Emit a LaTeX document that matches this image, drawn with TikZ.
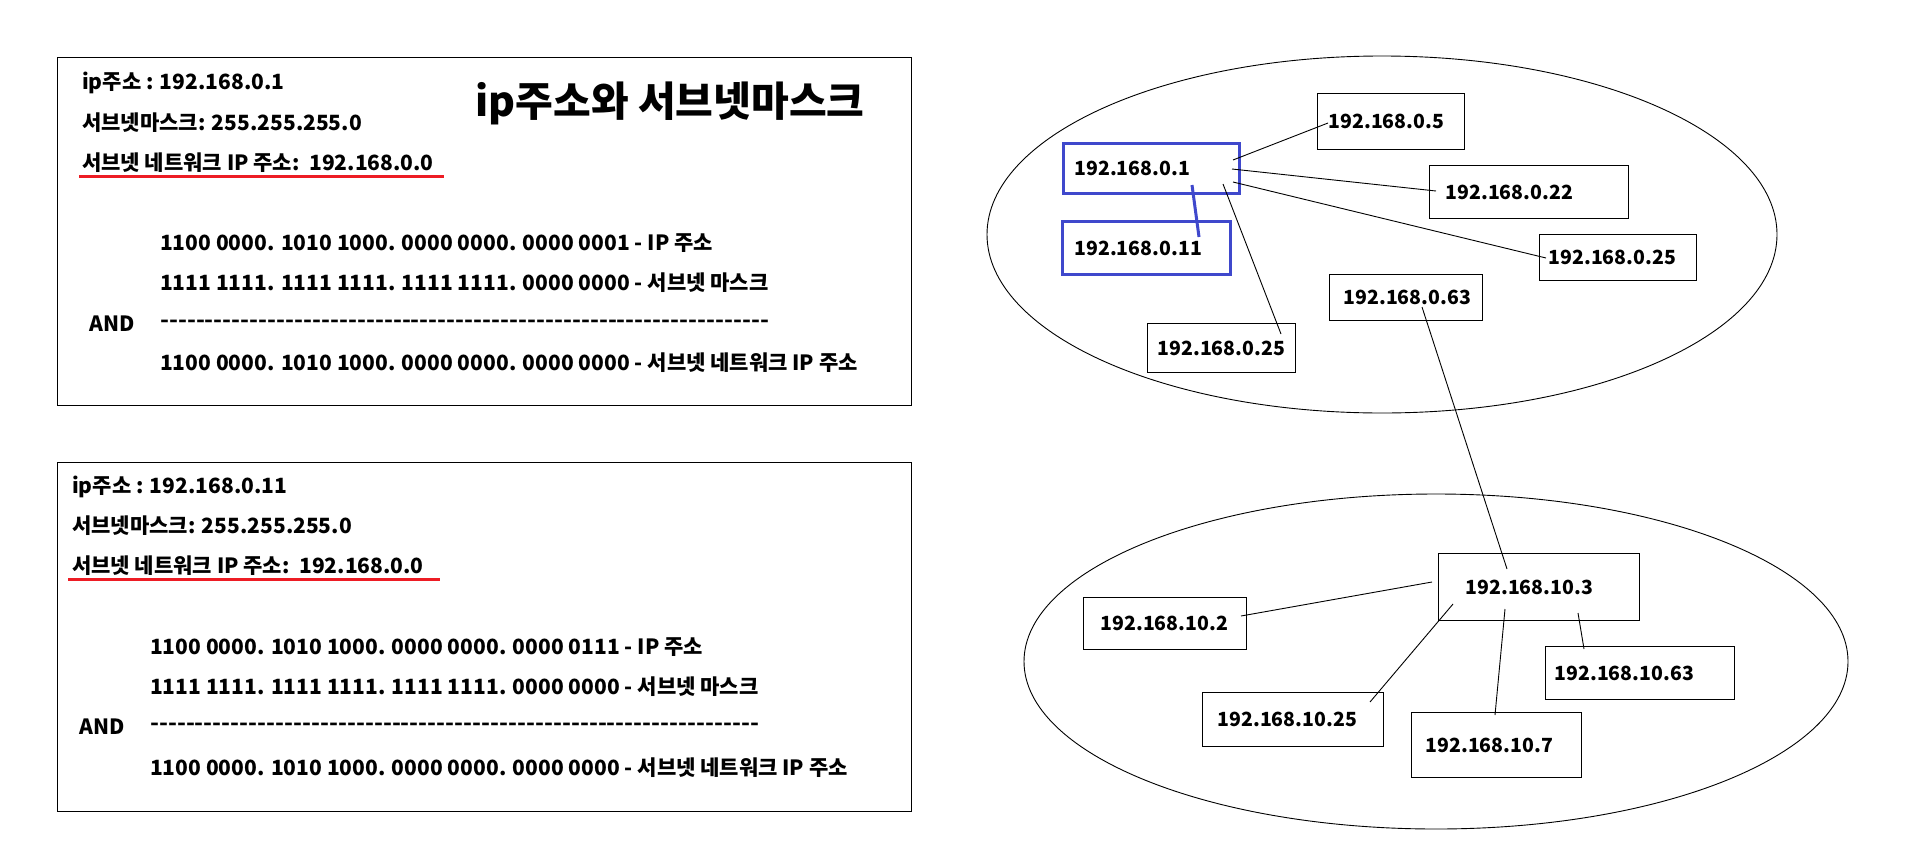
\documentclass[tikz,border=0pt]{standalone}
\usepackage{fontspec}
\setmainfont{Noto Sans CJK KR}
\usepackage{graphicx}
\usetikzlibrary{calc}
\definecolor{paintblue}{RGB}{63,72,204}
\definecolor{paintred}{RGB}{237,28,36}
\newcommand\fourdash{-{}-{}-{}-{}}
\newcommand\dashrow{\resizebox{609pt}{\height}{\fourdash\fourdash\fourdash\fourdash\fourdash\fourdash\fourdash\fourdash\fourdash\fourdash\fourdash\fourdash\fourdash\fourdash\fourdash\fourdash\fourdash}}
\begin{document}
\begin{tikzpicture}[x=1pt,y=-1pt,
  txt/.style={anchor=west, inner sep=0pt, font=\fontsize{21}{25}\selectfont\bfseries},
  titletxt/.style={anchor=center, inner sep=0pt, font=\fontsize{41}{48}\selectfont\bfseries},
  netbox/.style={draw, line width=1.2pt, anchor=north west, align=left, inner ysep=0pt, font=\fontsize{19.5}{24}\selectfont\bfseries},
  hostbox/.style={netbox, draw=paintblue, line width=3pt},
  link/.style={line width=0.9pt},
  hostlink/.style={line width=3pt, draw=paintblue},
  frame/.style={line width=1pt},
  uline/.style={line width=3pt, draw=paintred}]
\useasboundingbox[fill=white] (0,0) rectangle (1908,846);

% ---------- panel 1 ----------
\draw[frame] (57,57) rectangle (911,405);
\node[txt] (a1) at (82,83) {ip주소 : 192.168.0.1};
\node[txt] (a2) at (82,123) {서브넷마스크: 255.255.255.0};
\node[txt] (a3) at (82,163) {서브넷 네트워크 IP 주소:\ \ 192.168.0.0};
\draw[uline] (79,176) -- (444,176);
\node[titletxt] (title) at (670,103) {ip주소와 서브넷마스크};
\node[txt] (a4) at (160,243) {1100 0000. 1010 1000. 0000 0000. 0000 0001 - IP 주소};
\node[txt] (a5) at (160,283) {1111 1111. 1111 1111. 1111 1111. 0000 0000 - 서브넷 마스크};
\node[txt] (a6) at (89,324) {AND};
\node[txt] (a7) at (160,324) {\dashrow};
\node[txt] (a8) at (160,363) {1100 0000. 1010 1000. 0000 0000. 0000 0000 - 서브넷 네트워크 IP 주소};

% ---------- panel 2 ----------
\draw[frame] (57,462) rectangle (911,811);
\node[txt] (b1) at (72,487) {ip주소 : 192.168.0.11};
\node[txt] (b2) at (72,526) {서브넷마스크: 255.255.255.0};
\node[txt] (b3) at (72,566) {서브넷 네트워크 IP 주소:\ \ 192.168.0.0};
\draw[uline] (68,579) -- (440,579);
\node[txt] (b4) at (150,647) {1100 0000. 1010 1000. 0000 0000. 0000 0111 - IP 주소};
\node[txt] (b5) at (150,687) {1111 1111. 1111 1111. 1111 1111. 0000 0000 - 서브넷 마스크};
\node[txt] (b6) at (79,727) {AND};
\node[txt] (b7) at (150,727) {\dashrow};
\node[txt] (b8) at (150,768) {1100 0000. 1010 1000. 0000 0000. 0000 0000 - 서브넷 네트워크 IP 주소};

% ---------- network 192.168.0.x ----------
\draw[link] (1382,234.5) ellipse [x radius=395pt, y radius=178.5pt];
\node[netbox, minimum height=56pt, inner xsep=11pt, text width=125pt] (n05) at (1317,93) {192.168.0.5};
\node[hostbox, minimum height=50pt, inner xsep=11pt, text width=154pt] (n01) at (1062,142) {192.168.0.1};
\node[netbox, minimum height=53pt, inner xsep=16pt, text width=167pt] (n022) at (1429,165) {192.168.0.22};
\node[hostbox, minimum height=53pt, inner xsep=12pt, text width=144pt] (n011) at (1061,220) {192.168.0.11};
\node[netbox, minimum height=46pt, inner xsep=9pt, text width=139pt] (n025r) at (1539,234) {192.168.0.25};
\node[netbox, minimum height=46pt, inner xsep=14pt, text width=125pt] (n063) at (1329,274) {192.168.0.63};
\node[netbox, minimum height=49pt, inner xsep=10pt, text width=128pt] (n025l) at (1147,323) {192.168.0.25};

\draw[link] ($(n01.north west)+(171,18)$) -- ($(n05.north west)+(11,30)$);
\draw[link] ($(n01.north west)+(170,27)$) -- ($(n022.north west)+(7,26)$);
\draw[link] ($(n01.north west)+(171,40)$) -- ($(n025r.north west)+(7,24)$);
\draw[link] ($(n01.north west)+(161,42)$) -- ($(n025l.north west)+(134,11)$);
\draw[hostlink] ($(n01.north west)+(130,43)$) -- ($(n011.north west)+(138,17)$);

% ---------- network 192.168.10.x ----------
\draw[link] (1436,661.5) ellipse [x radius=412pt, y radius=167.5pt];
\node[netbox, minimum height=67pt, inner xsep=27pt, text width=147pt] (n103) at (1438,553) {192.168.10.3};
\node[netbox, minimum height=52pt, inner xsep=17pt, text width=129pt] (n102) at (1083,597) {192.168.10.2};
\node[netbox, minimum height=53pt, inner xsep=9pt, text width=171pt] (n1063) at (1545,646) {192.168.10.63};
\node[netbox, minimum height=54pt, inner xsep=15pt, text width=151pt] (n1025) at (1202,692) {192.168.10.25};
\node[netbox, minimum height=65pt, inner xsep=14pt, text width=142pt] (n107) at (1411,712) {192.168.10.7};

\draw[link] ($(n063.north west)+(93,33)$) -- ($(n103.north west)+(69,16)$);
\draw[link] ($(n103.north west)+(-6,29)$) -- ($(n102.north west)+(158,19)$);
\draw[link] ($(n103.north west)+(15,51)$) -- ($(n1025.north west)+(168,10)$);
\draw[link] ($(n103.north west)+(67,56)$) -- ($(n107.north west)+(84,3)$);
\draw[link] ($(n103.north west)+(140,60)$) -- ($(n1063.north west)+(39,3)$);
\end{tikzpicture}
\end{document}
